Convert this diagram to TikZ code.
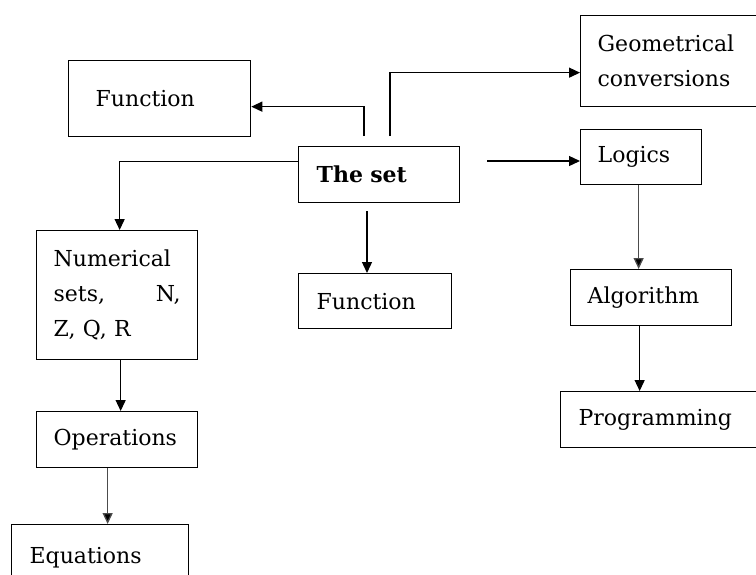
\documentclass[tikz,border=0pt]{standalone}
\usepackage{fontspec}
\setmainfont{DejaVu Serif}
\usetikzlibrary{arrows.meta,calc}
\begin{document}
\begin{tikzpicture}[x=1pt,y=-1pt,
  box/.style={draw, line width=1.3pt, anchor=north west, align=left, inner ysep=0pt,
    font=\fontsize{22}{35}\selectfont},
  conn/.style={line width=1.3pt, -{Triangle[length=11pt,width=10pt]}},
  gconn/.style={conn, draw=black!70, -{Triangle[length=11pt,width=10pt,fill=black]}}]
\useasboundingbox (0,0) rectangle (756,574);
\clip (0,0) rectangle (756,574);
\fill[white] (0,0) rectangle (756,574);
% boxes
\node[box, inner xsep=27pt, text width=128pt, minimum height=76pt] (fun1) at (68,60) {Function};
\node[box, inner xsep=17pt, text width=156pt, minimum height=91pt] (geom) at (580,15) {Geometrical\\conversions};
\node[box, inner xsep=18pt, text width=125pt, minimum height=56pt, font=\fontsize{22}{35}\selectfont\bfseries] (set) at (298,146) {The set};
\node[box, inner xsep=17pt, text width=87pt, minimum height=55pt] (logics) at (580,129) {Logics};
\node[box, inner xsep=17pt, text width=127pt, minimum height=129pt] (num) at (36,230) {Numerical\\sets,\hfill N,\\Z, Q, R};
\node[box, inner xsep=18pt, text width=117pt, minimum height=55pt] (fun2) at (298,273) {Function};
\node[box, inner xsep=17pt, text width=127pt, minimum height=56pt] (ops) at (36,411) {Operations};
\node[box, inner xsep=18pt, text width=141pt, minimum height=66pt] (eqs) at (11,524) {Equations};
\node[box, inner xsep=17pt, text width=127pt, minimum height=56pt] (alg) at (570,269) {Algorithm};
\node[box, inner xsep=18pt, text width=174pt, minimum height=56pt] (prog) at (560,391) {Programming};
% free ends
\coordinate (s1) at (364,136);
\coordinate (s2) at (390,136);
\coordinate (s3) at (487,161);
\coordinate (s4) at (367,211);
% connectors
\draw[conn] (s1) |- ([yshift=-8pt]fun1.east);
\draw[conn] (s2) |- ([yshift=-11.5pt]geom.west);
\draw[conn] (s3) -- (s3 -| logics.west);
\draw[conn] ([yshift=13pt]set.west) -| ([xshift=2.5pt]num.north);
\draw[conn] (s4) -- (s4 |- fun2.north);
\draw[conn] ([xshift=3.5pt]num.south) -- ([xshift=3.5pt]ops.north);
\draw[gconn] ([xshift=-9.5pt]ops.south) -- ([xshift=-9.5pt]ops.south |- eqs.north);
\draw[gconn] ([xshift=-2.5pt]logics.south) -- ([xshift=-2.5pt]logics.south |- alg.north);
\draw[conn] ([xshift=-11.5pt]alg.south) -- ([xshift=-11.5pt]alg.south |- prog.north);
\end{tikzpicture}
\end{document}
